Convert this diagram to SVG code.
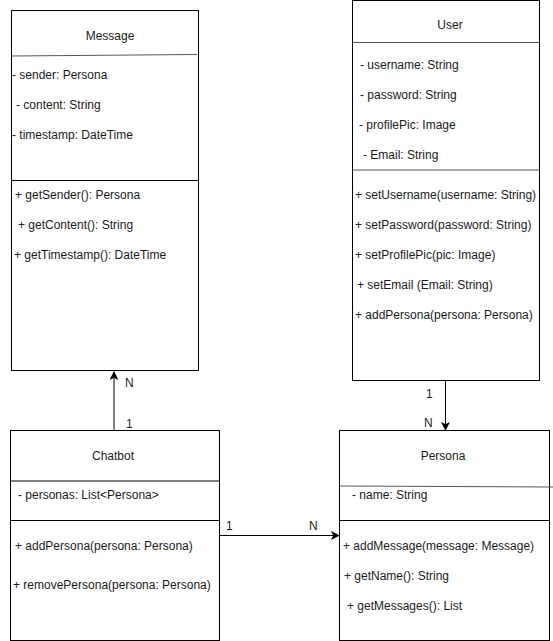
<svg xmlns="http://www.w3.org/2000/svg" width="553" height="641" viewBox="0 0 553 641">
<style>
text{font-family:"Liberation Sans",Arial,sans-serif;font-size:12px;fill:#1a1a1a}
.t{text-anchor:middle}
.box{fill:#fff;stroke:#000;stroke-width:1}
.div{stroke:#000;stroke-width:1;fill:none}
.sdiv{stroke:#555;stroke-width:1;fill:none}
.con{stroke:#000;stroke-width:1;fill:none}
</style>
<defs>
<marker id="arr" viewBox="0 0 10 10" refX="9" refY="5" markerWidth="9" markerHeight="9" markerUnits="userSpaceOnUse" orient="auto">
<path d="M0,0 L10,5 L0,10 L2.5,5 Z" fill="#000"/>
</marker>
</defs>
<rect width="553" height="641" fill="#fff"/>
<g id="Message">
<rect class="box" x="11.5" y="10.5" width="187" height="360"/>
<line class="sdiv" x1="11.5" y1="56" x2="197" y2="54.5"/>
<line class="div" x1="11.5" y1="180.5" x2="198.5" y2="180.5"/>
<text class="t" x="110" y="40">Message</text>
<text x="12" y="79">- sender: Persona</text>
<text x="16" y="109">- content: String</text>
<text x="12" y="139">- timestamp: DateTime</text>
<text x="15" y="199">+ getSender(): Persona</text>
<text x="18" y="229">+ getContent(): String</text>
<text x="14" y="259">+ getTimestamp(): DateTime</text>
</g>
<g id="User">
<rect class="box" x="352.5" y="0.5" width="187" height="380"/>
<line class="sdiv" x1="352.5" y1="42.5" x2="539.5" y2="42.5"/>
<line class="sdiv" x1="352.5" y1="170" x2="539.5" y2="170"/>
<text class="t" x="450" y="29">User</text>
<text x="360" y="69">- username: String</text>
<text x="360" y="99">- password: String</text>
<text x="359" y="129">- profilePic: Image</text>
<text x="363" y="159">- Email: String</text>
<text x="355" y="199">+ setUsername(username: String)</text>
<text x="355" y="229">+ setPassword(password: String)</text>
<text x="355" y="259">+ setProfilePic(pic: Image)</text>
<text x="357" y="289">+ setEmail (Email: String)</text>
<text x="355" y="319">+ addPersona(persona: Persona)</text>
</g>
<g id="Chatbot">
<rect class="box" x="10.5" y="430.5" width="209" height="210"/>
<line class="div" x1="10.5" y1="481" x2="219.5" y2="481"/>
<line class="div" x1="10.5" y1="520.5" x2="219.5" y2="520.5"/>
<text class="t" x="113" y="460">Chatbot</text>
<text x="18" y="499">- personas: List&lt;Persona&gt;</text>
<text x="15" y="550">+ addPersona(persona: Persona)</text>
<text x="13" y="589">+ removePersona(persona: Persona)</text>
</g>
<g id="Persona">
<rect class="box" x="339.5" y="430.5" width="210" height="210"/>
<line class="sdiv" x1="339.5" y1="486" x2="553" y2="487"/>
<line class="div" x1="339.5" y1="520.5" x2="549.5" y2="520.5"/>
<text class="t" x="443" y="460">Persona</text>
<text x="352" y="499">- name: String</text>
<text x="343" y="550">+ addMessage(message: Message)</text>
<text x="344" y="580">+ getName(): String</text>
<text x="347" y="610">+ getMessages(): List</text>
</g>
<g id="connectors">
<line class="con" x1="114" y1="430" x2="114" y2="372" marker-end="url(#arr)"/>
<text x="125" y="387">N</text>
<text x="126" y="428">1</text>
<line class="con" x1="445.5" y1="381" x2="445.5" y2="430" marker-end="url(#arr)"/>
<text x="426" y="398">1</text>
<text x="424" y="427">N</text>
<line class="con" x1="220" y1="535.5" x2="339" y2="535.5" marker-end="url(#arr)"/>
<text x="226" y="530">1</text>
<text x="309" y="530">N</text>
</g>
</svg>
